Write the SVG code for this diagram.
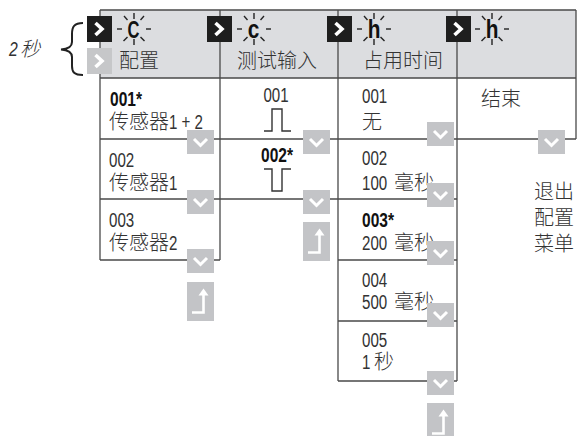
<svg xmlns="http://www.w3.org/2000/svg" xmlns:xlink="http://www.w3.org/1999/xlink" width="580" height="436" viewBox="0 0 580 436">
<style>
.cjk{font-family:"Noto Sans CJK SC","Noto Sans",sans-serif;font-size:20px;font-weight:300;fill:#333}
.num{font-family:"Liberation Sans",Arial,sans-serif;font-size:21px;fill:#333}
.b{font-weight:bold;fill:#111}
.ln{stroke:#4a4a4a;stroke-width:1.3;fill:none}
.ray{stroke:#222;stroke-width:1.4;fill:none}
.ltr{font-family:"Liberation Sans",Arial,sans-serif;font-weight:bold;fill:#111;text-anchor:middle}
</style>
<defs>
<g id="btnDown"><rect width="27" height="24" fill="#c3c4c7"/><polyline points="7,9 13.5,15.5 20,9" fill="none" stroke="#fff" stroke-width="3"/></g>
<g id="btnUp"><rect width="27" height="39" fill="#c3c4c7"/><path d="M5,30.5 H16.5 V12" fill="none" stroke="#fff" stroke-width="2.6"/><path d="M11.5,13.5 L16.5,6.5 L21.5,13.5Z" fill="#fff"/></g>
<g id="sqBlack"><rect width="25" height="26" fill="#1e1e1e"/><polyline points="8.5,7 15,13 8.5,19" fill="none" stroke="#fff" stroke-width="3.6"/></g>
<g id="sqGray"><rect width="25" height="26" fill="#c6c7c9"/><polyline points="8.5,7 15,13 8.5,19" fill="none" stroke="#fff" stroke-width="3.6"/></g>
<g id="rays" class="ray"><line x1="0" y1="-16" x2="0" y2="-10"/><line x1="0" y1="10" x2="0" y2="16"/><line x1="-17" y1="0" x2="-12" y2="0"/><line x1="12" y1="0" x2="17" y2="0"/><line x1="-10" y1="-13" x2="-6.5" y2="-9"/><line x1="10" y1="-13" x2="6.5" y2="-9"/><line x1="-10.5" y1="12" x2="-6.5" y2="8"/><line x1="10.5" y1="12" x2="6.5" y2="8"/></g>
</defs>

<rect x="100" y="10" width="476" height="68" fill="#dcdde0"/>

<g id="connectors">
<path class="ln" d="M100,10 H576 M100,78 H576 M100,139 H576 M100,199 H457 M100,260 H220 M338,260 H457 M338,321 H457 M338,381 H457 M100,10 V260 M220,10 V260 M338,10 V381 M457,10 V381 M576,10 V139"/>
<path d="M83,23 C74,23 72,27 72,34 V42 C72,47 68,49 61,49.5 C68,50 72,52 72,57 V66 C72,72 74,75 83,75" fill="none" stroke="#222" stroke-width="2"/>
</g>

<g id="label-2s">
<text class="num" font-style="italic" transform="translate(9,56) scale(0.75,1)">2</text>
<text class="cjk" font-style="italic" x="20" y="56">秒</text>
</g>

<g id="col-config">
<use xlink:href="#sqBlack" x="87" y="16"/>
<use xlink:href="#sqGray" x="87" y="48"/>
<use xlink:href="#rays" x="134" y="29"/>
<text class="ltr" font-size="23" transform="translate(133.5,37.5) scale(0.72,1)">C</text>
<text class="cjk" x="119" y="68">配置</text>
<text class="num b" transform="translate(110,106) scale(0.74,1)">001*</text>
<text class="cjk" x="109" y="129">传感器</text>
<text class="num" transform="translate(169,129) scale(0.72,1)">1 + 2</text>
<text class="num" transform="translate(109,167) scale(0.72,1)">002</text>
<text class="cjk" x="109" y="190">传感器</text>
<text class="num" transform="translate(169,190) scale(0.72,1)">1</text>
<text class="num" transform="translate(109,227) scale(0.72,1)">003</text>
<text class="cjk" x="109" y="250">传感器</text>
<text class="num" transform="translate(169,250) scale(0.72,1)">2</text>
<use xlink:href="#btnDown" x="187" y="130"/>
<use xlink:href="#btnDown" x="187" y="190"/>
<use xlink:href="#btnDown" x="187" y="249"/>
<use xlink:href="#btnUp" x="187" y="282"/>
</g>

<g id="col-test">
<use xlink:href="#sqBlack" x="207" y="16"/>
<use xlink:href="#rays" x="254" y="29"/>
<text class="ltr" font-size="26" transform="translate(253.5,37.5) scale(0.8,1)">c</text>
<text class="cjk" x="237" y="68">测试输入</text>
<text class="num" text-anchor="middle" transform="translate(276,102) scale(0.72,1)">001</text>
<path d="M264,131 H272 V109 H282 V131 H291" fill="none" stroke="#333" stroke-width="1.4"/>
<text class="num b" text-anchor="middle" transform="translate(277,162) scale(0.74,1)">002*</text>
<path d="M264,169 H272 V191 H282 V169 H291" fill="none" stroke="#333" stroke-width="1.4"/>
<use xlink:href="#btnDown" x="303" y="130"/>
<use xlink:href="#btnDown" x="303" y="190"/>
<use xlink:href="#btnUp" x="303" y="222"/>
</g>

<g id="col-hold">
<use xlink:href="#sqBlack" x="327" y="16"/>
<use xlink:href="#rays" x="374" y="29"/>
<text class="ltr" font-size="26" transform="translate(374,38) scale(0.8,1)">h</text>
<text class="cjk" x="363" y="68">占用时间</text>
<text class="num" transform="translate(362,103) scale(0.72,1)">001</text>
<text class="cjk" x="362" y="129">无</text>
<text class="num" transform="translate(362,165) scale(0.72,1)">002</text>
<text class="num" transform="translate(362,190) scale(0.72,1)">100</text>
<text class="cjk" x="394" y="190">毫秒</text>
<text class="num b" transform="translate(362,227) scale(0.74,1)">003*</text>
<text class="num" transform="translate(362,250) scale(0.72,1)">200</text>
<text class="cjk" x="394" y="250">毫秒</text>
<text class="num" transform="translate(362,287) scale(0.72,1)">004</text>
<text class="num" transform="translate(362,309) scale(0.72,1)">500</text>
<text class="cjk" x="394" y="309">毫秒</text>
<text class="num" transform="translate(362,347) scale(0.72,1)">005</text>
<text class="num" transform="translate(362,369) scale(0.72,1)">1</text>
<text class="cjk" x="374" y="369">秒</text>
<use xlink:href="#btnDown" x="427" y="122"/>
<use xlink:href="#btnDown" x="427" y="183"/>
<use xlink:href="#btnDown" x="427" y="241"/>
<use xlink:href="#btnDown" x="427" y="303"/>
<use xlink:href="#btnDown" x="427" y="371"/>
<use xlink:href="#btnUp" x="427" y="403"/>
</g>

<g id="col-end">
<use xlink:href="#sqBlack" x="446" y="16"/>
<use xlink:href="#rays" x="492" y="29"/>
<text class="ltr" font-size="26" transform="translate(492,38) scale(0.8,1)">h</text>
<text class="cjk" x="481" y="106">结束</text>
<use xlink:href="#btnDown" x="538" y="130"/>
</g>

<g id="exit-label">
<text class="cjk" x="534" y="199">退出</text>
<text class="cjk" x="534" y="225">配置</text>
<text class="cjk" x="534" y="251">菜单</text>
</g>
</svg>
